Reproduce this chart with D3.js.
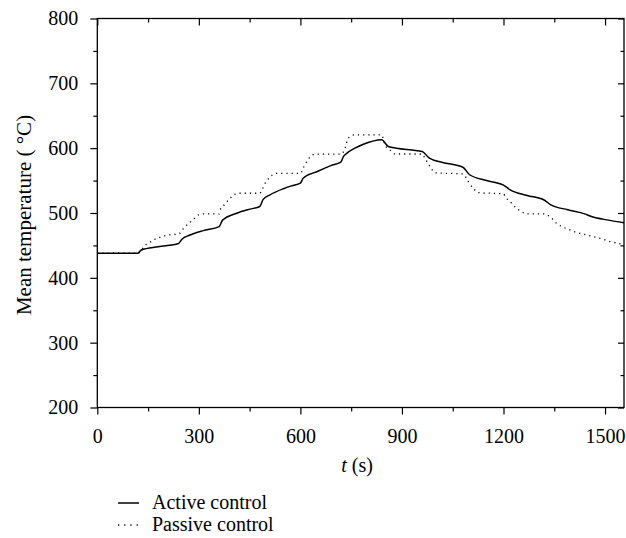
<!DOCTYPE html>
<html>
<head>
<meta charset="utf-8">
<script src="https://cdn.jsdelivr.net/npm/d3@7"></script>
<style>
  body { margin: 0; background: #fff; }
  text { font-family: "Liberation Serif", "Times New Roman", serif; fill: #000; }
</style>
</head>
<body>
<svg id="chart" width="626" height="538"></svg>
<script>
// values
var activeTime = [0, 120, 130, 180, 240, 250, 274, 313, 360, 370, 412, 451, 480, 490, 510, 550, 575, 600,
    608, 650, 690, 720, 727, 737, 761, 786, 840, 860, 884, 930, 960, 980, 1020, 1080, 1100, 1150, 1200,
    1220, 1270, 1320, 1340, 1390, 1440, 1460, 1510, 1556];
var activeTemp = [438, 438, 443, 448, 453, 459.6, 466, 472.8, 479, 489, 499.7, 506, 510, 521, 528, 537.5, 542, 546,
    553.7, 564, 573, 579, 587, 592, 600, 606, 613, 602.5, 600, 597, 595, 585, 578, 570.6, 559, 550, 543,
    535.6, 527, 520, 512.5, 505, 498.6, 494.5, 489, 485];

var passiveTime = [0, 120, 141, 156, 170, 190, 208, 240, 255, 270, 284, 299, 313, 360, 362, 377, 392, 407, 420, 480,
    487, 496, 510, 525, 600, 608, 623, 643, 720, 732, 741, 761, 840, 850, 865, 880, 960, 968, 983, 998, 1080,
    1096, 1111, 1125, 1200, 1207, 1224, 1239, 1254, 1268, 1320, 1342, 1357, 1377, 1396, 1416, 1446, 1465, 1485,
    1515, 1549, 1556];
var passiveTemp = [438, 438, 450, 455, 459.5, 463.6, 466, 467.5, 476.5, 484, 490, 497, 498.6, 498.6, 503.7, 513.6, 522.8, 529, 530.5, 530.5,
    536, 546, 555, 561, 561, 569, 583, 590.7, 590.7, 600, 615.4, 620.5, 620.5, 605, 597, 591, 591, 584.6, 571.6, 562, 560.3,
    548.5, 538, 531.5, 529.5, 524, 515, 507, 502, 498.6, 498.6, 492, 484, 478, 474, 470, 466, 463.6, 461,
    456, 452, 451];

var xTicks = [0, 300, 600, 900, 1200, 1500];
var xMinor = [150, 450, 750, 1050, 1350];
var yTicks = [200, 300, 400, 500, 600, 700, 800];
var yMinor = [250, 350, 450, 550, 650, 750];
var seriesNames = ["Active control", "Passive control"];

var svg = d3.select("#chart");
var plotLeft = 97.3, plotRight = 624, plotTop = 18.5, plotBottom = 407.5;

var x = d3.scaleLinear().domain([0, 1556]).range([plotLeft, plotRight]);
var y = d3.scaleLinear().domain([200, 800]).range([plotBottom, plotTop]);

function zip(ts, vs) {
    return ts.map(function(t, i) { return {t: t, v: vs[i]}; });
}

// axes: outward on bottom/left, inward on top/right
function addAxis(axis, transform, values, size) {
    var g = svg.append("g")
        .attr("transform", transform)
        .call(axis.tickValues(values).tickSize(size).tickSizeOuter(0));
    g.select(".domain").remove();
    g.selectAll("line").attr("stroke", "#000").attr("stroke-width", 1.2);
    return g;
}

var fmt = d3.format("d");
var gx = addAxis(d3.axisBottom(x).tickFormat(fmt).tickPadding(14), "translate(0," + plotBottom + ")", xTicks, 7);
gx.selectAll("text").style("font-size", "20px").style("font-family", null);
addAxis(d3.axisBottom(x).tickFormat(""), "translate(0," + plotBottom + ")", xMinor, 4);
addAxis(d3.axisTop(x).tickFormat(""), "translate(0," + plotTop + ")", xTicks, -7);
addAxis(d3.axisTop(x).tickFormat(""), "translate(0," + plotTop + ")", xMinor, -4);

var gy = addAxis(d3.axisLeft(y).tickFormat(fmt).tickPadding(12), "translate(" + plotLeft + ",0)", yTicks, 7);
gy.selectAll("text").style("font-size", "20px").style("font-family", null);
addAxis(d3.axisLeft(y).tickFormat(""), "translate(" + plotLeft + ",0)", yMinor, 4);
addAxis(d3.axisRight(y).tickFormat(""), "translate(" + plotRight + ",0)", yTicks, -6);
addAxis(d3.axisRight(y).tickFormat(""), "translate(" + plotRight + ",0)", yMinor, -3.5);

svg.append("rect")
    .attr("x", plotLeft).attr("y", plotTop)
    .attr("width", plotRight - plotLeft).attr("height", plotBottom - plotTop)
    .attr("fill", "none").attr("stroke", "#000").attr("stroke-width", 1.3);

svg.append("clipPath").attr("id", "plot")
    .append("rect").attr("x", plotLeft).attr("y", plotTop)
    .attr("width", plotRight - plotLeft).attr("height", plotBottom - plotTop);

var line = d3.line()
    .x(function(d) { return x(d.t); })
    .y(function(d) { return y(d.v); })
    .curve(d3.curveMonotoneX);

svg.append("path")
    .datum(zip(passiveTime, passiveTemp))
    .attr("clip-path", "url(#plot)")
    .attr("fill", "none").attr("stroke", "#000")
    .attr("stroke-width", 1.3).attr("stroke-dasharray", "1.2,4")
    .attr("d", line);

svg.append("path")
    .datum(zip(activeTime, activeTemp))
    .attr("clip-path", "url(#plot)")
    .attr("fill", "none").attr("stroke", "#000")
    .attr("stroke-width", 1.5)
    .attr("d", line);

// axis titles
var xt = svg.append("text")
    .attr("x", 357).attr("y", 472)
    .attr("text-anchor", "middle")
    .style("font-size", "20px");
xt.append("tspan").style("font-style", "italic").text("t");
xt.append("tspan").text(" (s)");

svg.append("text")
    .attr("transform", "translate(31,215) rotate(-90)")
    .attr("text-anchor", "middle")
    .style("font-size", "21px")
    .text("Mean temperature ( °C)");

// legend
var legend = svg.append("g");
seriesNames.forEach(function(name, i) {
    var ly = 503 + i * 22;
    legend.append("line")
        .attr("x1", 118).attr("x2", 139).attr("y1", ly).attr("y2", ly)
        .attr("stroke", "#000")
        .attr("stroke-width", i == 0 ? 1.5 : 1.3)
        .attr("stroke-dasharray", i == 0 ? null : "1.2,5");
    legend.append("text")
        .attr("x", 152).attr("y", ly + 6)
        .style("font-size", "20px")
        .text(name);
});
</script>
</body>
</html>
